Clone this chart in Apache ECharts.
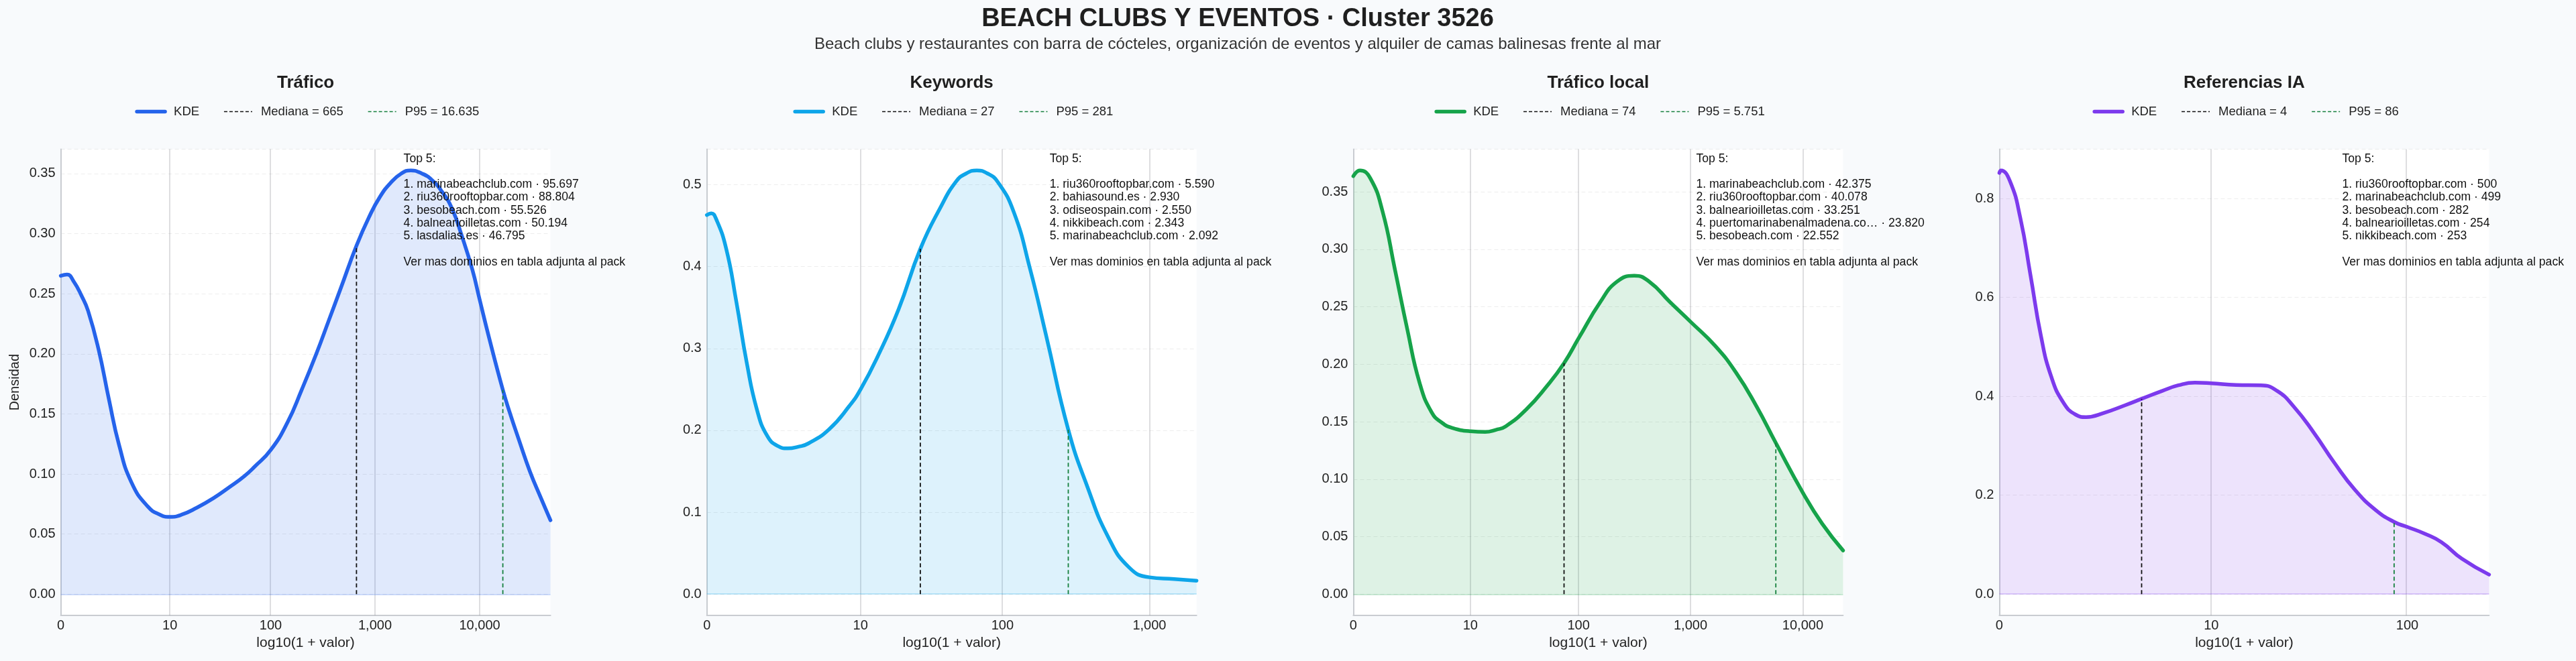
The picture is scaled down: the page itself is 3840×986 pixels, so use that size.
<!DOCTYPE html>
<html>
<head>
<meta charset="utf-8">
<title>Beach clubs y eventos</title>
<script src="https://cdn.jsdelivr.net/npm/echarts@6/dist/echarts.min.js"></script>
<style>
  html, body { margin: 0; padding: 0; background: #f8fafc; }
  #main { width: 3840px; height: 986px; }
</style>
</head>
<body>
<div id="main"></div>
<script>
// ---- datos ----
var mainTitle = 'BEACH CLUBS Y EVENTOS · Cluster 3526';
var subTitle = 'Beach clubs y restaurantes con barra de cócteles, organización de eventos y alquiler de camas balinesas frente al mar';
var panelTitles = ['Tráfico', 'Keywords', 'Tráfico local', 'Referencias IA'];
var medianas = [665, 27, 74, 4];
var medianaLabels = ['665', '27', '74', '4'];
var p95s = [16635, 281, 5751, 86];
var p95Labels = ['16.635', '281', '5.751', '86'];
var xTicks = [
  [0, 10, 100, 1000, 10000],
  [0, 10, 100, 1000],
  [0, 10, 100, 1000, 10000],
  [0, 10, 100]
];
var xMax = [4.676, 3.32, 4.358, 2.406];
var yMin = [-0.0176, -0.0259, -0.0184, -0.0429];
var yMax = [0.3703, 0.5434, 0.3871, 0.8999];
var yStep = [0.05, 0.1, 0.05, 0.2];

// KDE: [log10(1+valor), densidad]
var kdeTrafico = [[0,0.265],[0.06,0.266],[0.125,0.260],[0.2,0.248],[0.26,0.236],[0.36,0.204],[0.46,0.162],[0.557,0.124],
  [0.675,0.093],[0.83,0.073],[0.95,0.066],[1.04,0.0643],[1.15,0.066],[1.30,0.072],[1.46,0.080],[1.616,0.0894],[1.75,0.098],
  [1.85,0.106],[2.005,0.120],[2.165,0.143],[2.30,0.170],[2.44,0.200],[2.56,0.228],[2.675,0.255],[2.8235,0.290],[2.95,0.315],
  [3.05,0.331],[3.146,0.342],[3.25,0.350],[3.342,0.3527],[3.45,0.350],[3.54,0.345],[3.64,0.335],[3.735,0.321],[3.83,0.298],
  [3.93,0.270],[4.0,0.245],[4.088,0.214],[4.221,0.170],[4.284,0.152],[4.38,0.127],[4.48,0.102],[4.58,0.081],[4.676,0.0615]];
var kdeKeywords = [[0,0.463],[0.03,0.465],[0.061,0.459],[0.131,0.422],[0.2,0.357],[0.27,0.283],[0.34,0.225],[0.41,0.193],
  [0.48,0.181],[0.549,0.178],[0.62,0.180],[0.688,0.184],[0.827,0.201],[0.967,0.230],[1.042,0.250],[1.16,0.291],[1.30,0.348],
  [1.448,0.422],[1.58,0.471],[1.69,0.504],[1.76,0.514],[1.83,0.5175],[1.90,0.514],[1.97,0.504],[2.08,0.467],[2.19,0.398],
  [2.30,0.316],[2.45,0.201],[2.58,0.131],[2.72,0.070],[2.86,0.033],[3.0,0.0205],[3.167,0.0184],[3.32,0.0164]];
var kdeLocal = [[0,0.3637],[0.0585,0.3687],[0.15,0.362],[0.26,0.333],[0.369,0.283],[0.479,0.231],[0.589,0.184],[0.698,0.158],
  [0.79,0.149],[0.881,0.1446],[1.042,0.1417],[1.174,0.1411],[1.27,0.143],[1.356,0.146],[1.539,0.1607],[1.722,0.181],
  [1.875,0.201],[2.007,0.223],[2.197,0.254],[2.344,0.2717],[2.50,0.277],[2.636,0.2717],[2.819,0.254],[3.005,0.2366],
  [3.22,0.216],[3.404,0.193],[3.587,0.1636],[3.76,0.1315],[4.004,0.0876],[4.172,0.0613],[4.358,0.038]];
var kdeIA = [[0,0.852],[0.008,0.857],[0.0525,0.835],[0.103,0.761],[0.153,0.645],[0.204,0.523],[0.254,0.441],[0.315,0.387],
  [0.375,0.363],[0.426,0.358],[0.517,0.367],[0.618,0.382],[0.699,0.395],[0.80,0.411],[0.88,0.4224],[0.961,0.4278],
  [1.042,0.4265],[1.163,0.423],[1.284,0.4224],[1.365,0.411],[1.445,0.380],[1.546,0.326],[1.647,0.265],[1.748,0.2105],
  [1.849,0.170],[1.9395,0.146],[2.004,0.1358],[2.091,0.122],[2.172,0.105],[2.273,0.0713],[2.406,0.0394]];
var kdes = [kdeTrafico, kdeKeywords, kdeLocal, kdeIA];

var top5Trafico = [['marinabeachclub.com', '95.697'], ['riu360rooftopbar.com', '88.804'], ['besobeach.com', '55.526'],
  ['balnearioilletas.com', '50.194'], ['lasdalias.es', '46.795']];
var top5Keywords = [['riu360rooftopbar.com', '5.590'], ['bahiasound.es', '2.930'], ['odiseospain.com', '2.550'],
  ['nikkibeach.com', '2.343'], ['marinabeachclub.com', '2.092']];
var top5Local = [['marinabeachclub.com', '42.375'], ['riu360rooftopbar.com', '40.078'], ['balnearioilletas.com', '33.251'],
  ['puertomarinabenalmadena.co…', '23.820'], ['besobeach.com', '22.552']];
var top5IA = [['riu360rooftopbar.com', '500'], ['marinabeachclub.com', '499'], ['besobeach.com', '282'],
  ['balnearioilletas.com', '254'], ['nikkibeach.com', '253']];
var top5s = [top5Trafico, top5Keywords, top5Local, top5IA];

// ---- estilo / layout ----
var colors = ['#2563eb', '#0ea5e9', '#16a34a', '#7c3aed'];
var FONT = '"Liberation Sans", Arial, Helvetica, sans-serif';
var gridLefts = [90.6, 1053.7, 2017.4, 2980.4];
var gridW = 730, gridTop = 222.6, gridH = 695.2;
var legendFont = 18.5;
var headerX = 1845;

function lg(v) { return Math.log10(1 + v); }
function curveAt(data, x) {
  for (var k = 1; k < data.length; k++) {
    if (data[k][0] >= x) {
      var a = data[k - 1], b = data[k];
      return a[1] + (b[1] - a[1]) * (x - a[0]) / (b[0] - a[0]);
    }
  }
  return data[data.length - 1][1];
}
function hexA(hex, a) {
  var n = parseInt(hex.slice(1), 16);
  return 'rgba(' + (n >> 16) + ',' + ((n >> 8) & 255) + ',' + (n & 255) + ',' + a + ')';
}
var ctx = document.createElement('canvas').getContext('2d');
ctx.font = legendFont + 'px ' + FONT;
function tw(s) { return ctx.measureText(s).width; }

var grids = [], xAxes = [], yAxes = [], series = [], legends = [], titles = [], graphics = [];

titles.push({ text: mainTitle, left: headerX, top: 10, textAlign: 'center', padding: 0,
  textStyle: { fontSize: 38, fontWeight: 'bold', color: '#1f1f1f', fontFamily: FONT } });
titles.push({ text: subTitle, left: headerX, top: 54, textAlign: 'center', padding: 0,
  textStyle: { fontSize: 24, fontWeight: 'normal', color: '#333', fontFamily: FONT } });

for (var i = 0; i < 4; i++) {
  var cx = gridLefts[i] + gridW / 2;
  var kde = kdes[i];
  var ticksPos = xTicks[i].map(lg);
  var tickLab = xTicks[i].map(function (t) { return t.toLocaleString('en-US'); });
  var kdeName = 'KDE' + '\u200b'.repeat(i);
  var medName = 'Mediana = ' + medianaLabels[i];
  var p95Name = 'P95 = ' + p95Labels[i];
  var xm = lg(medianas[i]), xp = lg(p95s[i]);
  var dec = yStep[i] < 0.1 ? 2 : 1;

  titles.push({ text: panelTitles[i], left: cx, top: 111, textAlign: 'center', padding: 0,
    textStyle: { fontSize: 26, fontWeight: 'bold', color: '#1f1f1f', fontFamily: FONT } });

  grids.push({ left: gridLefts[i], top: gridTop, width: gridW, height: gridH,
    show: true, backgroundColor: '#ffffff', borderWidth: 0, containLabel: false, outerBoundsMode: 'none' });

  xAxes.push({
    type: 'value', gridIndex: i, min: 0, max: xMax[i],
    name: 'log10(1 + valor)', nameLocation: 'middle', nameGap: 30,
    nameTextStyle: { fontSize: 21, color: '#222', fontFamily: FONT },
    axisLine: { show: true, onZero: false, lineStyle: { color: '#c9ccd1', width: 2 } },
    axisTick: { show: false, customValues: ticksPos },
    splitLine: { show: false },
    axisLabel: {
      customValues: ticksPos, margin: 6, fontSize: 20, color: '#222', fontFamily: FONT,
      formatter: (function (pos, lab) {
        return function (v) {
          for (var k = 0; k < pos.length; k++) if (Math.abs(pos[k] - v) < 1e-6) return lab[k];
          return '';
        };
      })(ticksPos, tickLab)
    }
  });

  yAxes.push({
    type: 'value', gridIndex: i, min: yMin[i], max: yMax[i],
    minInterval: yStep[i], maxInterval: yStep[i],
    name: i === 0 ? 'Densidad' : '', nameLocation: 'middle', nameGap: 58,
    nameTextStyle: { fontSize: 20, color: '#222', fontFamily: FONT },
    axisLine: { show: true, lineStyle: { color: '#c9ccd1', width: 2 } },
    axisTick: { show: false },
    splitLine: { show: true, lineStyle: { color: 'rgba(0,0,0,0.07)', width: 1, type: [6, 4] } },
    axisLabel: {
      showMinLabel: false, showMaxLabel: false, margin: 8, fontSize: 20, color: '#222', fontFamily: FONT,
      formatter: (function (d) { return function (v) { return v.toFixed(d); }; })(dec)
    }
  });

  var gridLines = ticksPos.slice(1).map(function (p) {
    return { xAxis: p, lineStyle: { color: 'rgba(60,60,70,0.22)', width: 1.5, type: 'solid' } };
  });
  gridLines.push({ yAxis: 0, lineStyle: { color: hexA(colors[i], 0.3), width: 1.5, type: 'solid' } });

  series.push({
    name: kdeName, type: 'line', xAxisIndex: i, yAxisIndex: i, data: kde,
    smooth: 0.5, symbol: 'none', z: 3,
    lineStyle: { color: colors[i], width: 5.5, cap: 'round', join: 'round' },
    itemStyle: { color: colors[i] },
    areaStyle: { color: hexA(colors[i], 0.2), origin: 0 },
    markLine: { silent: true, symbol: ['none', 'none'], label: { show: false }, data: gridLines, z: 2 }
  });
  series.push({
    name: medName, type: 'line', xAxisIndex: i, yAxisIndex: i, z: 4,
    data: [[xm, 0], [xm, curveAt(kde, xm)]], symbol: 'none',
    lineStyle: { color: '#111111', width: 1.8, type: [6, 4] }, itemStyle: { color: '#111111' }
  });
  series.push({
    name: p95Name, type: 'line', xAxisIndex: i, yAxisIndex: i, z: 4,
    data: [[xp, 0], [xp, curveAt(kde, xp)]], symbol: 'none',
    lineStyle: { color: '#15803d', width: 1.8, type: [6, 4] }, itemStyle: { color: '#15803d' }
  });

  // leyenda centrada sobre cada panel
  var itemW = 42, pad = 8, gap = 36;
  var names = ['KDE', medName, p95Name];
  var total = 0;
  names.forEach(function (n) { total += itemW + 5 + pad + tw(n); });
  total += gap * 2;
  var hidden = { color: 'rgba(0,0,0,0)', borderColor: 'rgba(0,0,0,0)', borderWidth: 0, opacity: 0 };
  legends.push({
    left: cx - total / 2, top: 157, orient: 'horizontal', padding: 0,
    itemWidth: itemW, itemHeight: 14, itemGap: gap, selectedMode: false,
    textStyle: { fontSize: legendFont, color: '#222', fontFamily: FONT, padding: [0, 0, 0, pad] },
    data: [
      { name: kdeName, itemStyle: hidden, lineStyle: { width: 5.5, color: colors[i], cap: 'round', type: 'solid' } },
      { name: medName, itemStyle: hidden, lineStyle: { width: 1.6, color: '#111111', type: [5, 3] } },
      { name: p95Name, itemStyle: hidden, lineStyle: { width: 1.6, color: '#15803d', type: [5, 3] } }
    ]
  });

  var lines = ['Top 5:', ''];
  top5s[i].forEach(function (d, k) { lines.push((k + 1) + '. ' + d[0] + ' · ' + d[1]); });
  lines.push('');
  lines.push('Ver mas dominios en tabla adjunta al pack');
  graphics.push({
    type: 'text', left: gridLefts[i] + 511, top: 227, z: 100, silent: true,
    style: { text: lines.join('\n'), fontSize: 17.6, fontFamily: FONT, fill: '#111', lineHeight: 19.3 }
  });
}

var myChart = echarts.init(document.getElementById('main'));
myChart.setOption({
  backgroundColor: '#f8fafc',
  animation: false,
  title: titles,
  legend: legends,
  grid: grids,
  xAxis: xAxes,
  yAxis: yAxes,
  series: series,
  graphic: graphics
});
</script>
</body>
</html>
